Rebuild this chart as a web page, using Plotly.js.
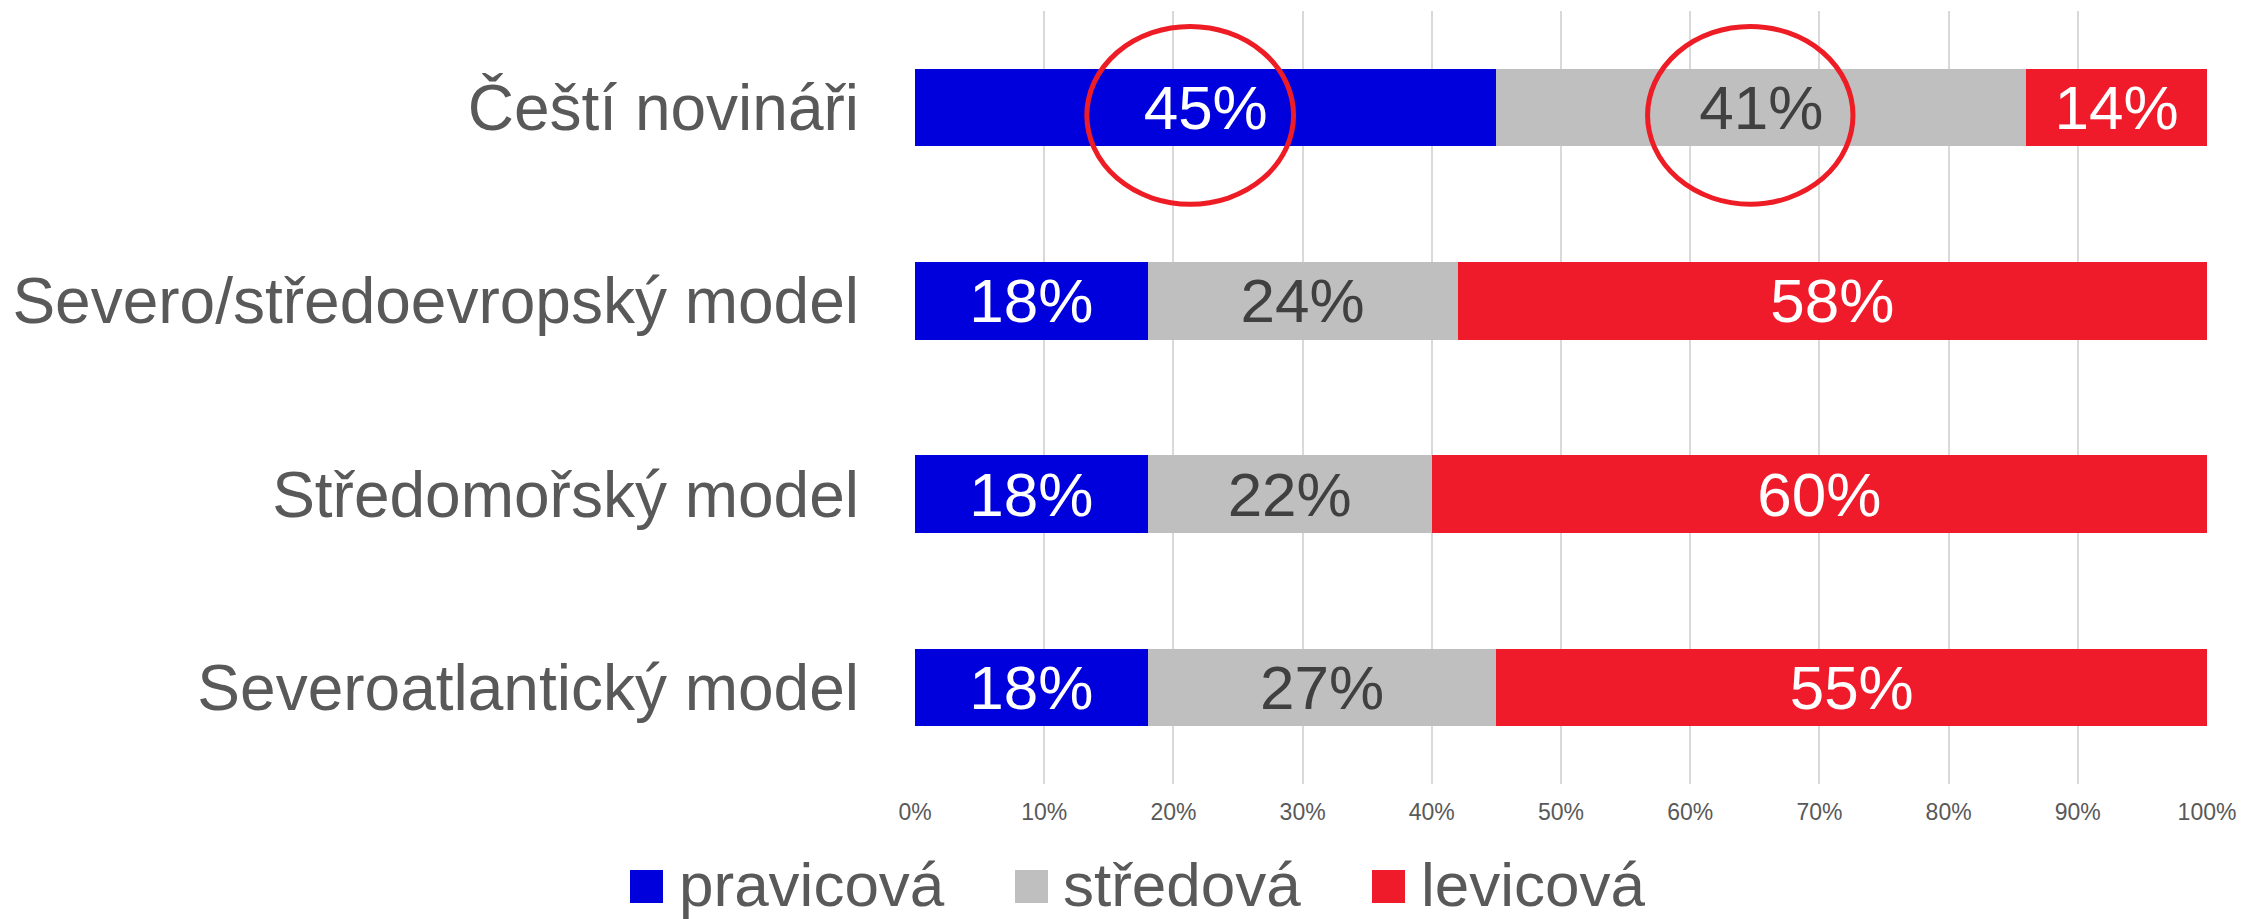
<!DOCTYPE html>
<html>
<head>
<meta charset="utf-8">
<script src="https://cdn.plot.ly/plotly-3.0.1.min.js"></script>
<style>
  html, body { margin: 0; padding: 0; background: #ffffff; }
  #chart { width: 2242px; height: 919px; }
</style>
</head>
<body>
<div id="chart"></div>
<script>
// ---- data ----
const categories = ['Čeští novináři', 'Severo/středoevropský model', 'Středomořský model', 'Severoatlantický model'];
const pravicova = [45, 18, 18, 18];
const stredova  = [41, 24, 22, 27];
const levicova  = [14, 58, 60, 55];
const seriesNames = ['pravicová', 'středová', 'levicová'];
const tickValues = [0, 10, 20, 30, 40, 50, 60, 70, 80, 90, 100];
const tickLabels = ['0%', '10%', '20%', '30%', '40%', '50%', '60%', '70%', '80%', '90%', '100%'];

// ---- styling ----
const FONT = 'Liberation Sans, Arial, sans-serif';
const colors = ['#0000DC', '#BFBFBF', '#EF1B2B'];
const textColors = ['#FFFFFF', '#404040', '#FFFFFF'];
const W = 2242, H = 919;
const M = { l: 915, r: 35, t: 11, b: 135 };
const plotW = W - M.l - M.r, plotH = H - M.t - M.b;
const px2paperX = px => (px - M.l) / plotW;
const px2paperY = py => (H - M.b - py) / plotH;

const seriesValues = [pravicova, stredova, levicova];
const traces = seriesValues.map((vals, i) => ({
  type: 'bar',
  orientation: 'h',
  name: seriesNames[i],
  y: categories,
  x: vals,
  text: vals.map(v => v + '%'),
  textposition: 'inside',
  insidetextanchor: 'middle',
  constraintext: 'none',
  textfont: { family: FONT, size: 62, color: textColors[i] },
  marker: { color: colors[i], line: { width: 0 } },
  hoverinfo: 'skip',
  showlegend: false
}));

// custom legend (large squares like the original)
const legendItems = [
  { sq: 630, tx: 678 },
  { sq: 1015, tx: 1062 },
  { sq: 1372, tx: 1420 }
];
const shapes = [];
const annotations = [];
legendItems.forEach((it, i) => {
  shapes.push({
    type: 'rect', xref: 'paper', yref: 'paper',
    x0: px2paperX(it.sq), x1: px2paperX(it.sq + 33),
    y0: px2paperY(903), y1: px2paperY(870),
    fillcolor: colors[i], line: { width: 0 }
  });
  annotations.push({
    xref: 'paper', yref: 'paper',
    x: px2paperX(it.tx), y: px2paperY(884),
    xanchor: 'left', yanchor: 'middle',
    text: seriesNames[i], showarrow: false,
    borderpad: 0,
    font: { family: FONT, size: 62, color: '#595959' }
  });
});

// red highlight ellipses around first-row values
shapes.push({
  type: 'circle', xref: 'x', yref: 'y',
  x0: 13.3, x1: 29.3, y0: -0.42, y1: 0.50,
  line: { color: '#EE1C25', width: 5 }, fillcolor: 'rgba(0,0,0,0)'
});
shapes.push({
  type: 'circle', xref: 'x', yref: 'y',
  x0: 56.7, x1: 72.6, y0: -0.42, y1: 0.50,
  line: { color: '#EE1C25', width: 5 }, fillcolor: 'rgba(0,0,0,0)'
});

const layout = {
  width: W, height: H,
  margin: M,
  paper_bgcolor: '#FFFFFF',
  plot_bgcolor: '#FFFFFF',
  barmode: 'stack',
  bargap: 0.6,
  showlegend: false,
  font: { family: FONT, color: '#595959' },
  xaxis: {
    range: [0, 100],
    tickvals: tickValues,
    ticktext: tickLabels,
    showgrid: true,
    gridcolor: '#D9D9D9',
    gridwidth: 2,
    zeroline: false,
    showline: false,
    ticks: '',
    ticklabelstandoff: 12,
    tickfont: { family: FONT, size: 23, color: '#595959' },
    fixedrange: true
  },
  yaxis: {
    type: 'category',
    autorange: 'reversed',
    showgrid: false,
    zeroline: false,
    showline: false,
    ticks: '',
    ticklabelstandoff: 55,
    tickfont: { family: FONT, size: 64, color: '#595959' },
    fixedrange: true
  },
  shapes: shapes,
  annotations: annotations
};

Plotly.newPlot('chart', traces, layout, { displayModeBar: false, staticPlot: true });
</script>
</body>
</html>
